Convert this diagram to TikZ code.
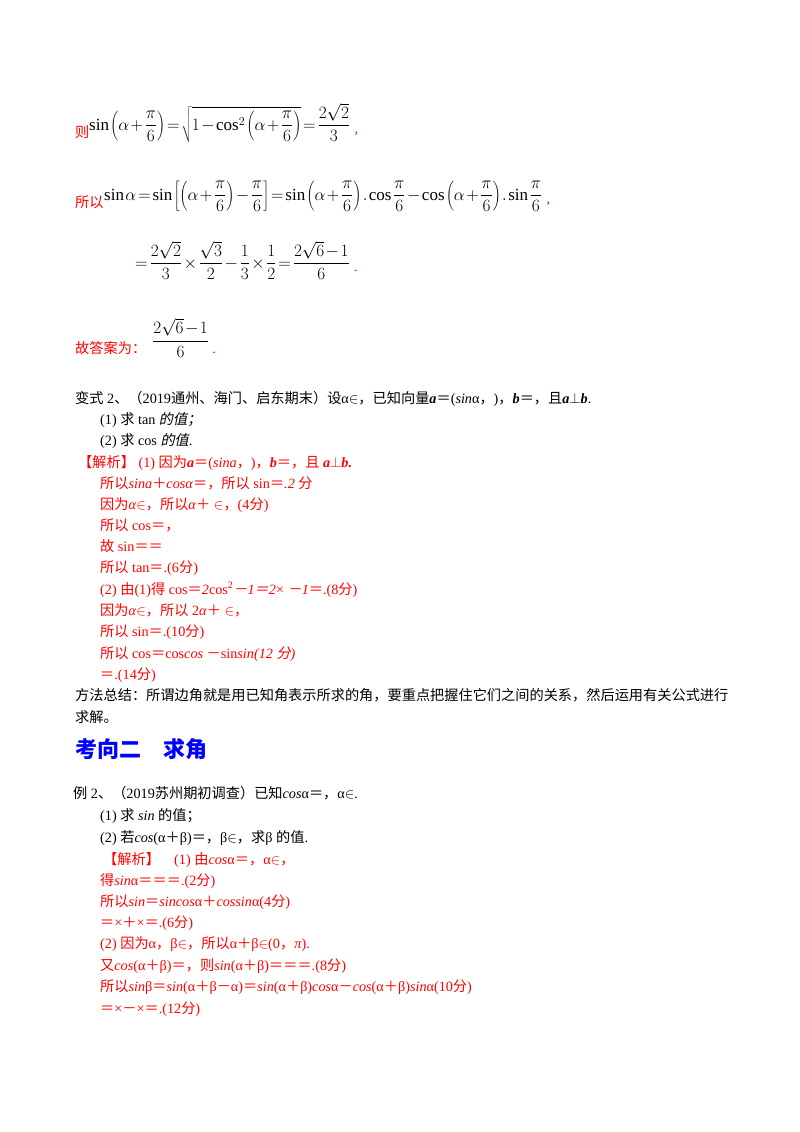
\documentclass[tikz,border=0pt]{standalone}
\usepackage{fontspec}
\setmainfont{Liberation Serif}
\newfontfamily\cjk{Noto Sans CJK SC}[AutoFakeSlant=0.2]
\XeTeXinterchartokenstate=1
\newXeTeXintercharclass\CJKcls
\newcount\cc
\cc="3000 \loop\ifnum\cc<"3040 \XeTeXcharclass\cc=\CJKcls \advance\cc by 1 \repeat
\cc="4E00 \loop\ifnum\cc<"A000 \XeTeXcharclass\cc=\CJKcls \advance\cc by 1 \repeat
\cc="FF00 \loop\ifnum\cc<"FFF0 \XeTeXcharclass\cc=\CJKcls \advance\cc by 1 \repeat
\XeTeXinterchartoks 0 \CJKcls = {\begingroup\cjk}
\XeTeXinterchartoks 4095 \CJKcls = {\begingroup\cjk}
\XeTeXinterchartoks \CJKcls 0 = {\endgroup}
\XeTeXinterchartoks \CJKcls 4095 = {\endgroup}
\newcommand{\bi}[1]{\textbf{\textit{#1}}}
\newcommand{\tightm}{\medmuskip=1.5mu\relax\thickmuskip=2mu\relax\thinmuskip=1.5mu\relax}
\begin{document}
\begin{tikzpicture}[x=1pt,y=-1pt,
  tl/.style={anchor=base west,inner sep=0pt,font=\fontsize{14.2}{16}\selectfont},
  rl/.style={tl,text=red},
  ml/.style={anchor=base west,inner sep=0pt,font=\fontsize{17}{19}\selectfont}]
\useasboundingbox[fill=white] (0,0) rectangle (800,1132);
\node[rl] (z1) at (75,137) {则};
\node[ml] (m1) at (89,130) {\tightm$\displaystyle\sin\left(\alpha+\frac{\pi}{6}\right)=\sqrt{1-\cos^2\left(\alpha+\frac{\pi}{6}\right)}=\frac{2\sqrt2}{3}$};
\node[rl] (z1c) at (m1.base east) [anchor=base west,xshift=4pt,yshift=-3pt] {,};
\node[rl] (z2) at (75,207) {所以};
\node[ml] (m2) at (104,200) {\tightm$\displaystyle\sin\alpha=\sin\left[\left(\alpha+\frac{\pi}{6}\right)-\frac{\pi}{6}\right]=\sin\left(\alpha+\frac{\pi}{6}\right).\cos\frac{\pi}{6}-\cos\left(\alpha+\frac{\pi}{6}\right).\sin\frac{\pi}{6}$};
\node[rl] (z2c) at (m2.base east) [anchor=base west,xshift=4pt,yshift=-3pt] {,};
\node[ml] (m3) at (135,268) {\tightm$\displaystyle=\frac{2\sqrt2}{3}\times\frac{\sqrt3}{2}-\frac13\times\frac12=\frac{2\sqrt6-1}{6}$};
\node[rl] (z3c) at (m3.base east) [anchor=base west,xshift=4pt,yshift=-3pt] {.};
\node[rl] (ans) at (75,353) {故答案为：};
\node[ml,anchor=west] (ansf) at (152,338) {\tightm$\displaystyle\frac{2\sqrt6-1}{6}$};
\node[rl] (ansd) at (ansf.east) [anchor=base west,xshift=3pt,yshift=-15pt] {.};

\node[tl] (a1) at (75,403) {变式 2、（2019通州、海门、启东期末）设α$\in$，已知向量\bi{a}＝(\textit{sin}α，)，\bi{b}＝，且\bi{a}$\perp$\bi{b}.};
\node[tl] (a2) at (100,424) {(1) 求 tan \textit{的值；}};
\node[tl] (a3) at (100,445) {(2) 求 cos \textit{的值}.};
\node[rl] (b1) at (78,467) {【解析】 (1) 因为\bi{a}＝(\textit{sina}，)，\bi{b}＝，且 \bi{a}$\perp$\bi{b.}};
\node[rl] (b2) at (100,488) {所以\textit{sina}＋\textit{cosα}＝，所以 sin＝\textit{.2} 分};
\node[rl] (b3) at (100,509) {因为\textit{α}$\in$，所以\textit{α}＋ $\in$，(4分)};
\node[rl] (b4) at (100,530) {所以 cos＝，};
\node[rl] (b5) at (100,551) {故 sin＝＝};
\node[rl] (b6) at (100,572) {所以 tan＝.(6分)};
\node[rl] (b7) at (100,594) {(2) 由(1)得 cos＝\textit{2}cos\textsuperscript{2}\textit{－1＝2}× \textit{－1}＝.(8分)};
\node[rl] (b8) at (100,615) {因为\textit{α}$\in$，所以 2\textit{α}＋ $\in$，};
\node[rl] (b9) at (100,636) {所以 sin＝.(10分)};
\node[rl] (b10) at (100,658) {所以 cos＝cos\textit{cos} －sin\textit{sin(12 分)}};
\node[rl] (b11) at (100,679) {＝.(14分)};
\node[tl] (c1) at (75,700) {方法总结：所谓边角就是用已知角表示所求的角，要重点把握住它们之间的关系，然后运用有关公式进行};
\node[tl] (c2) at (75,722) {求解。};
\node[anchor=base west,inner sep=0pt,text=blue,font=\fontsize{22}{24}\selectfont\bfseries] (h) at (75,757) {考向二　求角};
\node[tl] (d1) at (73,798) {例 2、（2019苏州期初调查）已知\textit{cos}α＝，α$\in$.};
\node[tl] (d2) at (100,820) {(1) 求 \textit{sin} 的值；};
\node[tl] (d3) at (100,842) {(2) 若\textit{cos}(α＋β)＝，β$\in$，求β 的值.};
\node[rl] (e1) at (103,864) {【解析】　(1) 由\textit{cos}α＝，α$\in$，};
\node[rl] (e2) at (100,885) {得\textit{sin}α＝＝＝.(2分)};
\node[rl] (e3) at (100,906) {所以\textit{sin}＝\textit{sincos}α＋\textit{cossin}α(4分)};
\node[rl] (e4) at (100,927) {＝×＋×＝.(6分)};
\node[rl] (e5) at (100,948) {(2) 因为α，β$\in$，所以α＋β$\in$(0，\textit{π}).};
\node[rl] (e6) at (100,970) {又\textit{cos}(α＋β)＝，则\textit{sin}(α＋β)＝＝＝.(8分)};
\node[rl] (e7) at (100,991) {所以\textit{sin}β＝\textit{sin}(α＋β－α)＝\textit{sin}(α＋β)\textit{cos}α－\textit{cos}(α＋β)\textit{sin}α(10分)};
\node[rl] (e8) at (100,1013) {＝×－×＝.(12分)};
\end{tikzpicture}
\end{document}
